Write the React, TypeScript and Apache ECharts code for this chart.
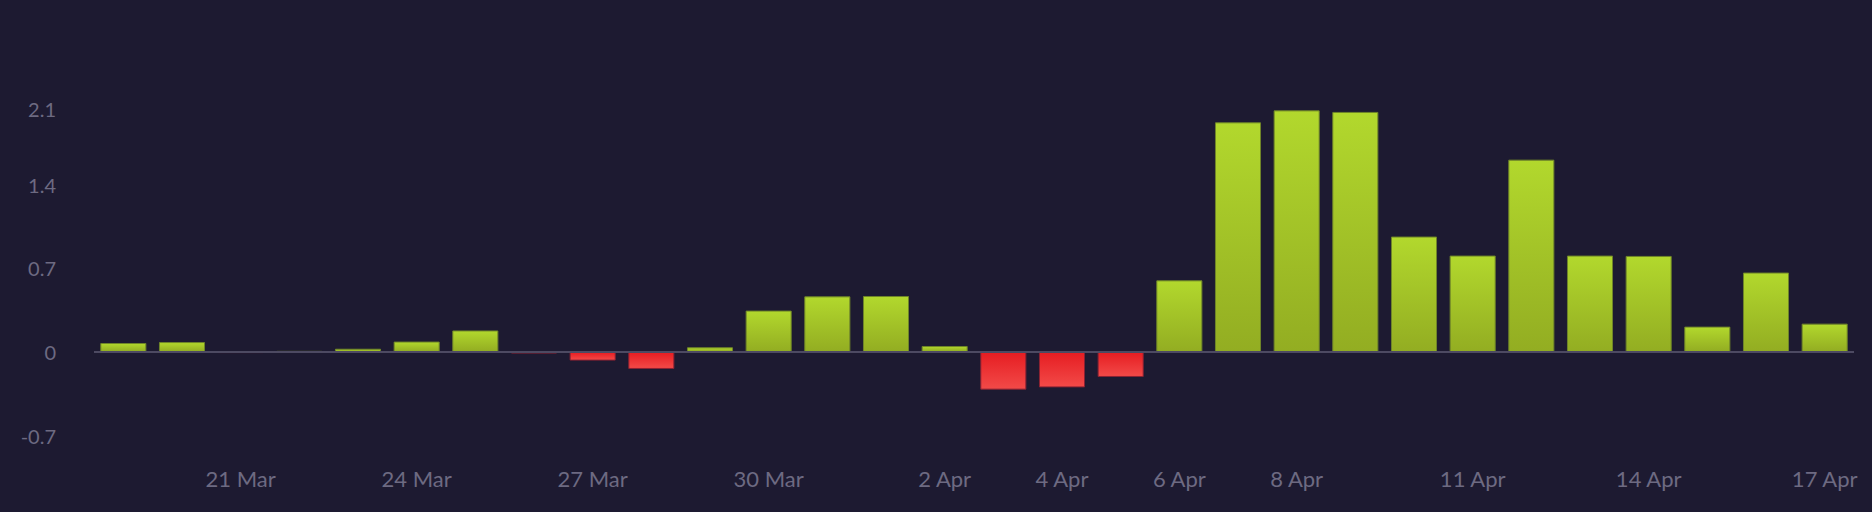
import React, { useEffect, useRef } from "react";
import * as echarts from "echarts";

const categories = [
  "19 Mar", "20 Mar", "21 Mar", "22 Mar", "23 Mar", "24 Mar", "25 Mar", "26 Mar", "27 Mar", "28 Mar",
  "29 Mar", "30 Mar", "31 Mar", "1 Apr", "2 Apr", "3 Apr", "4 Apr", "5 Apr", "6 Apr", "7 Apr",
  "8 Apr", "9 Apr", "10 Apr", "11 Apr", "12 Apr", "13 Apr", "14 Apr", "15 Apr", "16 Apr", "17 Apr",
];

const values = [
  0.075, 0.083, -0.009, 0.009, 0.027, 0.087, 0.18, -0.013, -0.072, -0.142,
  0.039, 0.346, 0.465, 0.468, 0.05, -0.315, -0.296, -0.209, 0.599, 1.92,
  2.02, 2.007, 0.965, 0.806, 1.608, 0.806, 0.803, 0.212, 0.664, 0.237,
];

const shownDates = ["21 Mar", "24 Mar", "27 Mar", "30 Mar", "2 Apr", "4 Apr", "6 Apr", "8 Apr", "11 Apr", "14 Apr", "17 Apr"];

const yMin = -0.7;
const yMax = 2.1;
const yStep = 0.7;

const LABEL = "#6d6a82";
const BG = "#1d1a31";

export default function App() {
  const ref = useRef<HTMLDivElement>(null);
  useEffect(() => {
    if (!ref.current) return;
    const chart = echarts.init(ref.current, null, { renderer: "svg" });
    const green = new echarts.graphic.LinearGradient(0, 0, 0, 1, [
      { offset: 0, color: "#b2d82d" },
      { offset: 1, color: "#93ad22" },
    ]);
    const red = new echarts.graphic.LinearGradient(0, 0, 0, 1, [
      { offset: 0, color: "#e61d22" },
      { offset: 1, color: "#f24a48" },
    ]);
    chart.setOption({
      animation: false,
      backgroundColor: BG,
      grid: { left: 94, right: 18, top: 100.8, bottom: 76.3, containLabel: false },
      xAxis: {
        type: "category",
        data: categories,
        axisLine: { show: false, onZero: false },
        axisTick: { show: false },
        splitLine: { show: false },
        axisLabel: {
          interval: (_i: number, v: string) => shownDates.includes(v),
          color: LABEL,
          fontFamily: "Lato",
          fontSize: 22,
          margin: 32,
        },
      },
      yAxis: {
        type: "value",
        min: yMin,
        max: yMax,
        interval: yStep,
        axisLine: { show: false },
        axisTick: { show: false },
        splitLine: { show: false },
        axisLabel: {
          color: LABEL,
          fontFamily: "Lato",
          fontSize: 20,
          margin: 38,
          formatter: (v: number) => {
            const s = String(Number(v.toFixed(1)));
            return Math.abs(v - yMax) < 1e-6 ? "{top|" + s + "}" : s;
          },
          rich: {
            top: { padding: [16, 0, 0, 0], color: LABEL, fontFamily: "Lato", fontSize: 20 },
          },
        },
      },
      series: [
        {
          type: "bar",
          data: values.map((v) => ({
            value: v,
            itemStyle: {
              color: v >= 0 ? green : red,
              borderColor: v >= 0 ? "#6f8529" : "#8a2233",
              borderWidth: 1,
            },
          })),
          barCategoryGap: "21.5%",
          markLine: {
            silent: true,
            symbol: ["none", "none"],
            label: { show: false },
            lineStyle: { color: "#4d4a62", width: 2, type: "solid" },
            data: [{ yAxis: 0 }],
          },
        },
      ],
    });
    return () => chart.dispose();
  }, []);
  return (
    <div
      ref={ref}
      style={{ position: "absolute", left: 0, top: 0, width: 1872, height: 512 }}
    />
  );
}
